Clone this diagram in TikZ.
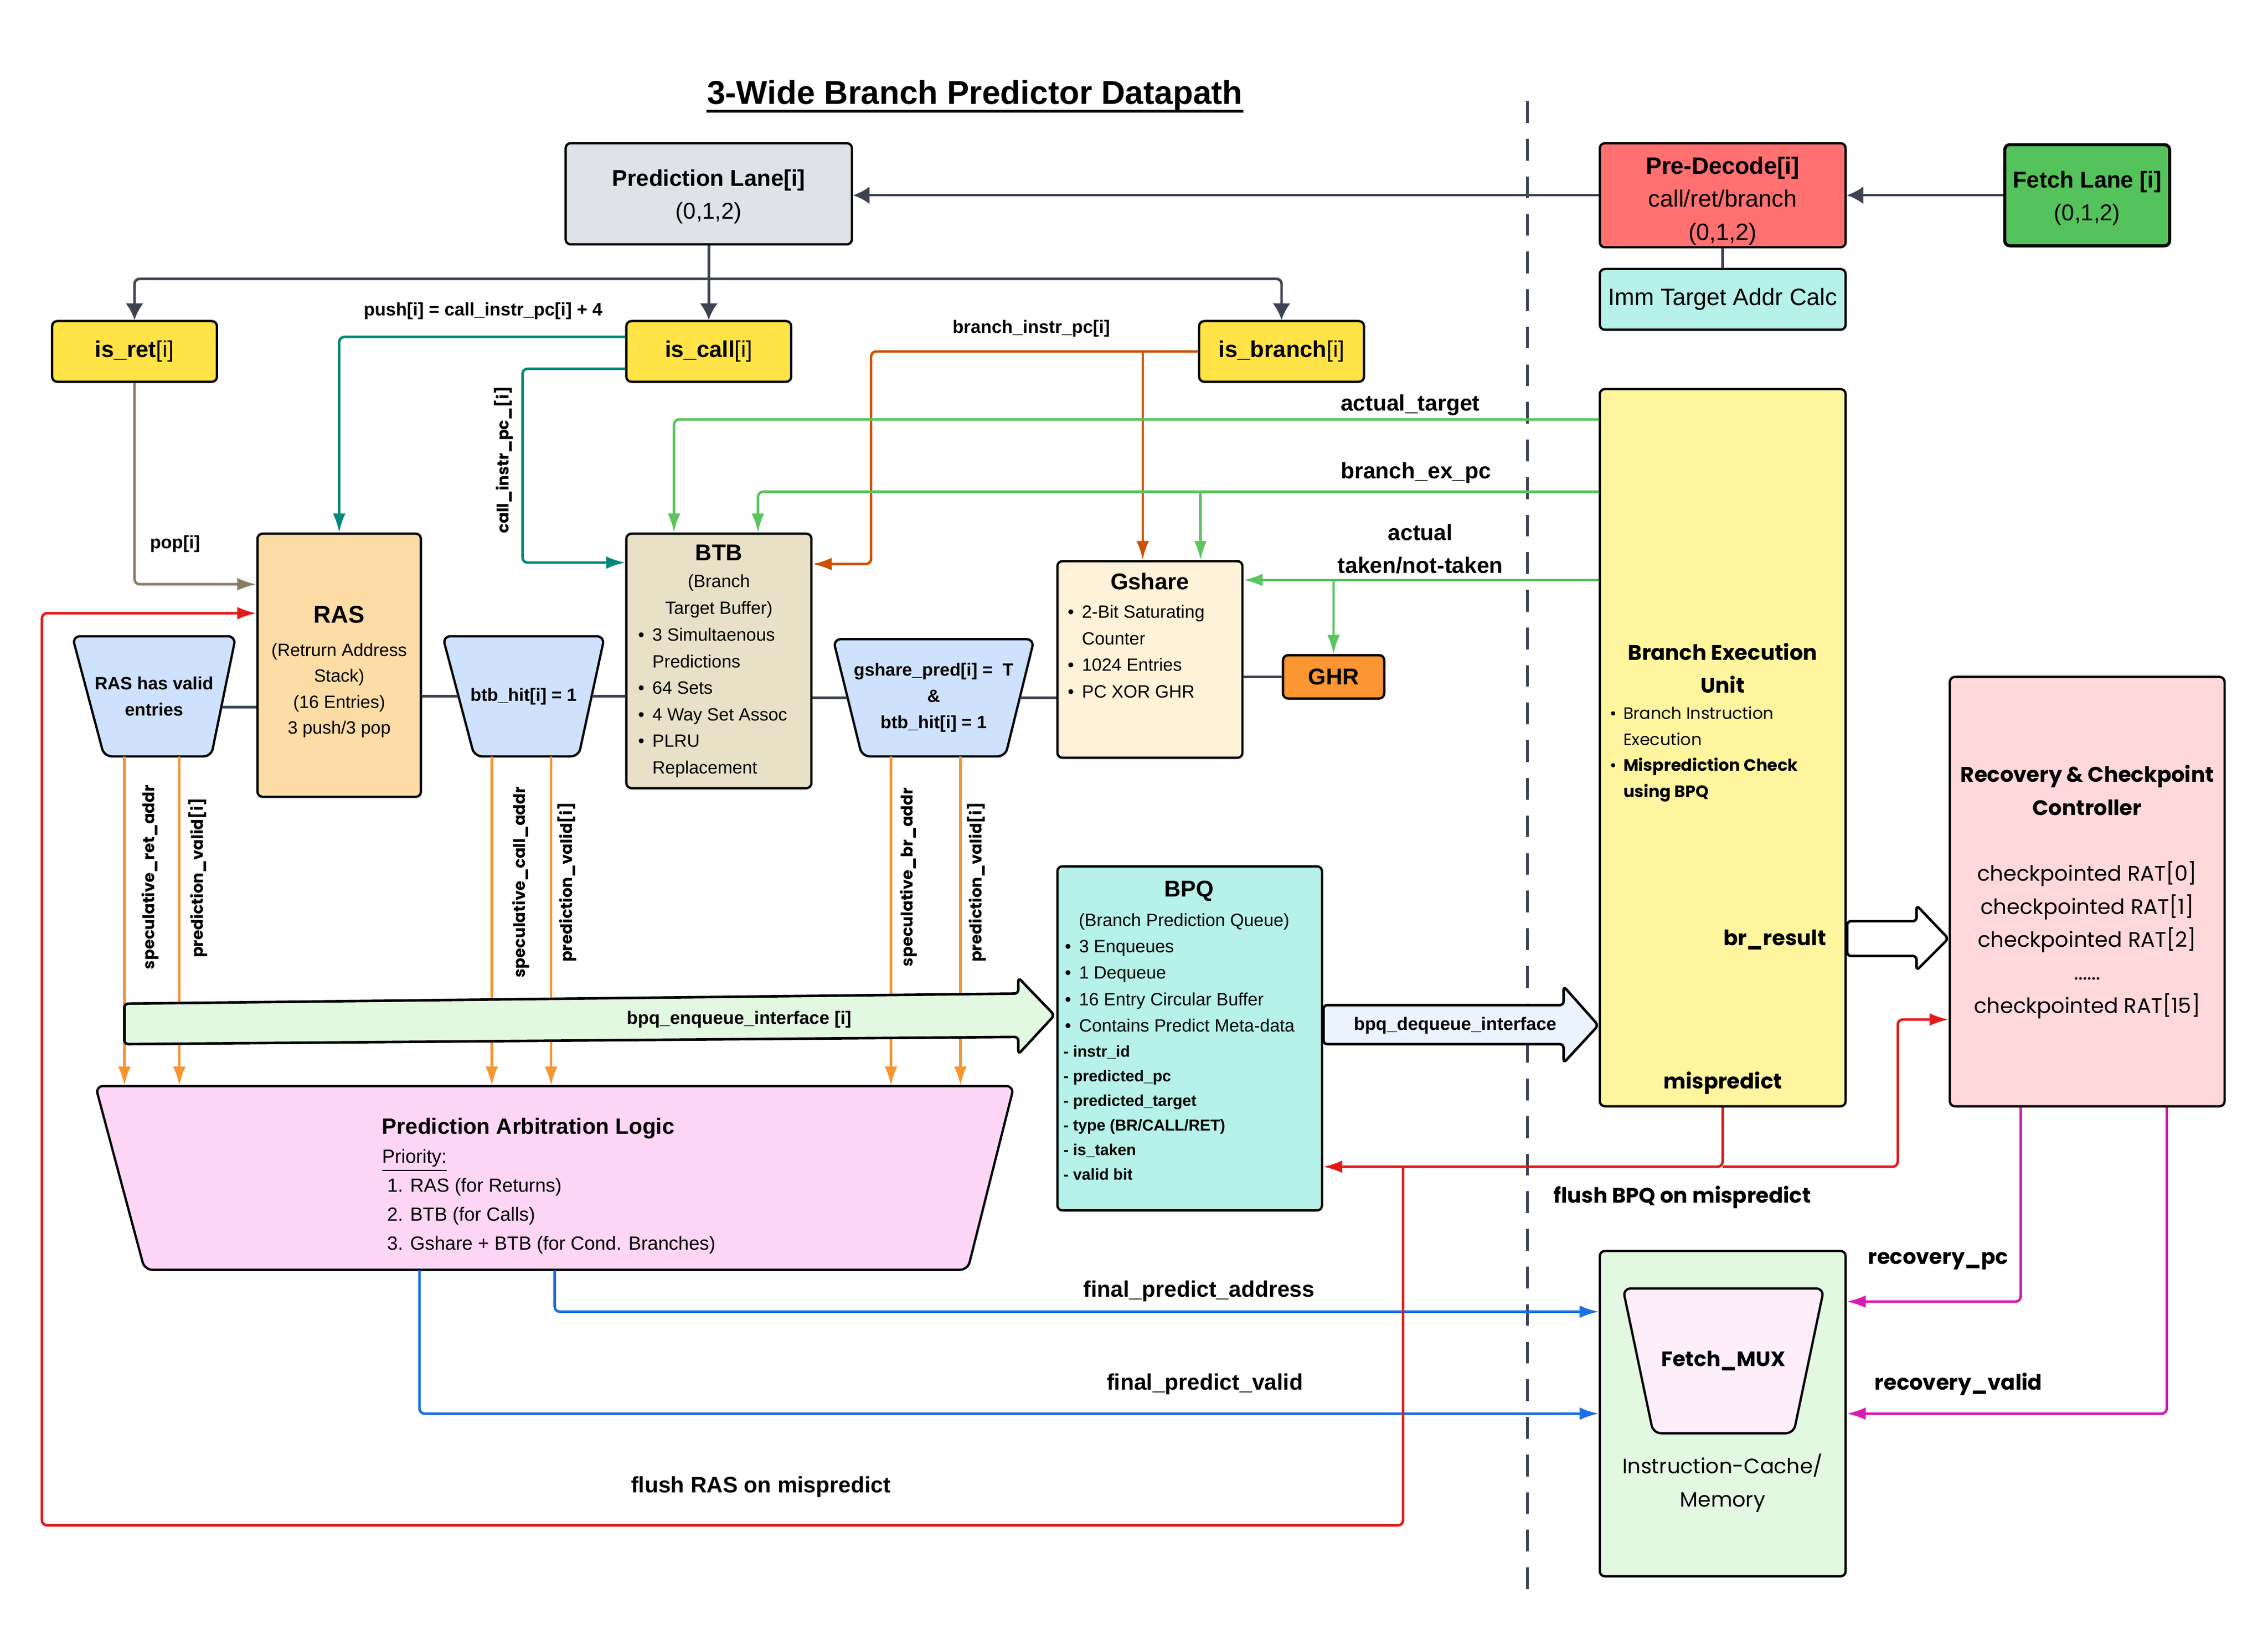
\documentclass[tikz,border=0pt]{standalone}
\usepackage{fontspec}
\setmainfont{Liberation Sans}
\newfontfamily\widefont{Poppins}
\usetikzlibrary{shapes.geometric,arrows.meta,positioning,calc}

\definecolor{darkline}{HTML}{3D4350}
\definecolor{lanegray}{HTML}{DFE2E7}
\definecolor{decodered}{HTML}{FF7070}
\definecolor{fetchgreen}{HTML}{55C35C}
\definecolor{immcyan}{HTML}{B6F2EA}
\definecolor{sigyellow}{HTML}{FFE347}
\definecolor{callteal}{HTML}{00897B}
\definecolor{popbrown}{HTML}{8B7B62}
\definecolor{rasorange}{HTML}{FDDCA6}
\definecolor{btbtan}{HTML}{E8E1C8}
\definecolor{gsharecream}{HTML}{FFF2D8}
\definecolor{ghrorange}{HTML}{FB9632}
\definecolor{brorange}{HTML}{CC5200}
\definecolor{updgreen}{HTML}{5AC45F}
\definecolor{beuyellow}{HTML}{FFF59F}
\definecolor{recpink}{HTML}{FFD8DA}
\definecolor{muxblue}{HTML}{CFE2FD}
\definecolor{specorange}{HTML}{F7952F}
\definecolor{enqgreen}{HTML}{E2F8E1}
\definecolor{deqblue}{HTML}{EBF3FE}
\definecolor{arbpink}{HTML}{FDD6F5}
\definecolor{predblue}{HTML}{1C6FE4}
\definecolor{fmuxpink}{HTML}{FDEEF9}
\definecolor{recmagenta}{HTML}{D81BB0}
\definecolor{flushred}{HTML}{E41A1A}

\newcommand{\setfs}[2]{\fontsize{#1}{#2}\selectfont}
\newcommand{\bul}{\makebox[0.8em][l]{•}}
\newcommand{\ind}{\hspace*{0.8em}}

\begin{document}
\begin{tikzpicture}[x=0.02cm, y=-0.02cm,
    box/.style={rectangle, draw, rounded corners=2pt, line width=0.9pt, inner sep=0pt, align=center},
    sig/.style={box, fill=sigyellow, minimum width=2.28cm, minimum height=0.84cm, font=\setfs{9}{11}},
    muxbody/.style={draw, line width=0.9pt, rounded corners=3pt, fill=muxblue},
    muxtxt/.style={inner sep=0pt, align=center, font=\bfseries\setfs{7}{10.3}},
    wire/.style={line width=1pt, rounded corners=2pt},
    arrow/.style={wire, -{Latex[length=7.5pt, width=5pt]}},
    garrow/.style={wire, darkline, -{Latex[length=6.5pt, width=7pt]}},
    fat/.style={draw, line width=1pt, rounded corners=1.5pt},
    lbl/.style={font=\bfseries\setfs{8.8}{13}, align=center},
    small/.style={font=\bfseries\setfs{7.1}{8}},
    wlbl/.style={font=\widefont\bfseries\setfs{8.3}{13}, align=center},
    vlbl/.style={font=\widefont\bfseries\setfs{6.3}{7}, rotate=90}
]
    \useasboundingbox (0,0) rectangle (1568,1134);

    % Title and lane separator
    \node[font=\bfseries\setfs{13}{15}, inner sep=0pt, anchor=base] (title) at (674,72) {3-Wide Branch Predictor Datapath};
    \draw[line width=1.1pt] ([yshift=-2.8pt]title.base west) -- ([yshift=-2.8pt]title.base east);
    \draw[darkline, line width=0.9pt, dash pattern=on 0.3cm off 0.22cm] (1056,70) -- (1056,1105);

    % Front end
    \node[box, fill=lanegray, minimum width=3.96cm, minimum height=1.4cm,
        label={[font=\setfs{9}{13}, align=center, yshift=-0.04cm]center:{\textbf{Prediction Lane[i]}\\(0,1,2)}}] (lane) at (490,134) {};
    \node[box, fill=decodered, minimum width=3.4cm, minimum height=1.44cm,
        label={[font=\setfs{9.3}{13}, align=center, yshift=-0.08cm]center:{\textbf{Pre-Decode[i]}\\call/ret/branch\\(0,1,2)}}] (predec) at (1191,135) {};
    \node[box, fill=fetchgreen, minimum width=2.28cm, minimum height=1.4cm, line width=1.2pt,
        label={[font=\setfs{9}{13}, align=center, yshift=-0.04cm]center:{\textbf{Fetch Lane [i]}\\(0,1,2)}}] (fetch) at (1443,135) {};
    \node[box, fill=immcyan, minimum width=3.4cm, minimum height=0.84cm, font=\setfs{9.3}{11}] (imm) at (1191,207) {Imm Target Addr Calc};

    \node[sig] (isret) at (93,243) {\textbf{is\_ret}[i]};
    \node[sig] (iscall) at (490,243) {\textbf{is\_call}[i]};
    \node[sig] (isbr) at (886,243) {\textbf{is\_branch}[i]};

    % Predictor structures
    \node[box, fill=rasorange, minimum width=2.26cm, minimum height=3.64cm] (ras) at (234.5,460) {};
    \node[font=\setfs{7}{10.2}, align=center] (rastxt) at (234.5,464.5)
        {{\bfseries\setfs{9.5}{11}RAS}\\[3pt](Retrurn Address\\Stack)\\(16 Entries)\\3 push/3 pop};

    \node[box, fill=btbtan, minimum width=2.56cm, minimum height=3.52cm] (btb) at (497,457) {};
    \node[font=\setfs{7}{10.5}, align=center] (btbhead) at (497,402) {{\bfseries\setfs{9}{10}BTB}\\(Branch\\Target Buffer)};
    \node[font=\setfs{7}{10.45}, align=left, anchor=west] (btblist) at (435,486)
        {\bul 3 Simultaenous\\\ind Predictions\\\bul 64 Sets\\\bul 4 Way Set Assoc\\\bul PLRU\\\ind Replacement};

    \node[box, fill=gsharecream, minimum width=2.56cm, minimum height=2.72cm] (gshare) at (795,456) {};
    \node[font=\bfseries\setfs{9}{10}] (gshead) at (795,402) {Gshare};
    \node[font=\setfs{7}{10.5}, align=left, anchor=west] (gslist) at (732,450.5)
        {\bul 2-Bit Saturating\\\ind Counter\\\bul 1024 Entries\\\bul PC XOR GHR};
    \node[box, fill=ghrorange, minimum width=1.4cm, minimum height=0.6cm, font=\bfseries\setfs{9}{10}] (ghr) at (922,468) {GHR};

    % Hit muxes
    \draw[muxbody] (50,440) -- (163,440) -- (146,523) -- (72,523) -- cycle;
    \node[muxtxt, minimum width=2.26cm, minimum height=1.66cm] (rasmux) at (106.5,481.5) {RAS has valid\\entries};
    \draw[muxbody] (306,440) -- (418,440) -- (400,523) -- (328,523) -- cycle;
    \node[muxtxt, minimum width=2.24cm, minimum height=1.66cm] (btbmux) at (362,481.5) {btb\_hit[i] = 1};
    \draw[muxbody] (576,442) -- (715,442) -- (695,523) -- (596,523) -- cycle;
    \node[muxtxt, minimum width=2.78cm, minimum height=1.62cm] (gsmux) at (645.5,482.5) {gshare\_pred[i] = \ T\\\&\\btb\_hit[i] = 1};

    % Arbitration
    \draw[muxbody, fill=arbpink] (66,751) -- (701,751) -- (669,878) -- (100,878) -- cycle;
    \node[minimum width=12.7cm, minimum height=2.54cm, inner sep=0pt] (arb) at (383.5,814.5) {};
    \node[font=\setfs{7.5}{11.4}, align=left, anchor=west] (arbtxt) at (258,820)
        {{\bfseries\setfs{8.7}{10}Prediction Arbitration Logic}\\\underline{Priority:}\\\hspace*{2pt}1. RAS (for Returns)\\\hspace*{2pt}2. BTB (for Calls)\\\hspace*{2pt}3. Gshare + BTB (for Cond. Branches)};

    % BPQ
    \node[box, fill=immcyan, minimum width=3.66cm, minimum height=4.76cm] (bpq) at (822.5,718) {};
    \node[font=\bfseries\setfs{9}{10}] (bpqhead) at (822,616) {BPQ};
    \node[font=\setfs{7}{10.4}, align=left, anchor=west] (bpqlist) at (730,672.5)
        {\hspace*{5.5pt}(Branch Prediction Queue)\\\bul 3 Enqueues\\\bul 1 Dequeue\\\bul 16 Entry Circular Buffer\\\bul Contains Predict Meta-data};
    \node[font=\bfseries\setfs{6.2}{9.65}, align=left, anchor=west] (bpqmeta) at (729,769.5)
        {- instr\_id\\- predicted\_pc\\- predicted\_target\\- type (BR/CALL/RET)\\- is\_taken\\- valid bit};

    % Back end
    \node[box, fill=beuyellow, minimum width=3.4cm, minimum height=9.92cm] (beu) at (1191,517) {};
    \node[wlbl] (beuhead) at (1191,462) {Branch Execution\\Unit};
    \node[font=\widefont\setfs{6.5}{10.2}, align=left, anchor=west] (beulist) at (1107,521.5)
        {\bul Branch Instruction\\\ind Execution\\\bul\textbf{Misprediction Check}\\\ind\textbf{using BPQ}};
    \node[wlbl] (brres) at (1227,650) {br\_result};
    \node[wlbl] (mispred) at (1191,749) {mispredict};

    \node[box, fill=recpink, minimum width=3.8cm, minimum height=5.94cm] (rec) at (1443,616.5) {};
    \node[wlbl] (rechead) at (1443,546.5) {Recovery \& Checkpoint\\Controller};
    \node[font=\widefont\setfs{8.3}{13}, align=center] (reclist) at (1443,650)
        {checkpointed RAT[0]\\checkpointed RAT[1]\\checkpointed RAT[2]\\......\\checkpointed RAT[15]};

    \node[box, fill=enqgreen, minimum width=3.4cm, minimum height=4.5cm] (fbox) at (1191,977.5) {};
    \draw[muxbody, fill=fmuxpink] (1122,891) -- (1261,891) -- (1240,991) -- (1143,991) -- cycle;
    \node[muxtxt, minimum width=2.78cm, minimum height=2cm, font=\widefont\bfseries\setfs{8.2}{10}] (fmux) at (1191.5,941) {Fetch\_MUX};
    \node[font=\widefont\setfs{8.2}{13}, align=center] (icache) at (1191,1025.5) {Instruction-Cache/\\Memory};

    % Decode path
    \draw[garrow] (fetch.west) -- (predec.east);
    \draw[garrow] (predec.west) -- (predec.west -| lane.east);
    \draw[wire, darkline] (predec.south) -- (imm.north);
    \coordinate (fan) at ($(lane.south)+(0,23)$);
    \draw[garrow] (lane.south) -- (iscall.north);
    \draw[garrow] (fan) -| (isret.north);
    \draw[garrow] (fan) -| (isbr.north);

    % Call / return paths
    \draw[arrow, callteal] ([yshift=0.2cm]iscall.west) -| (ras.north);
    \draw[arrow, callteal] ([yshift=-0.24cm]iscall.west) -- ++(-71,0) |- ([yshift=1.36cm]btb.west);
    \draw[arrow, popbrown] (isret.south) |- ([yshift=1.12cm]ras.west);
    \node[small] (pushlbl) at (334,215) {push[i] = call\_instr\_pc[i] + 4};
    \node[small] (poplbl) at (121,376) {pop[i]};
    \node[vlbl] (calllbl) at (348,318) {call\_instr\_pc\_[i]};

    % Branch PC
    \draw[arrow, brorange] (isbr.west) -- ++(-226,0) |- ([yshift=1.34cm]btb.east);
    \coordinate (gspc) at ([xshift=-0.1cm]gshare.north);
    \draw[arrow, brorange] (gspc |- isbr.west) -- (gspc);
    \node[small] (brpclbl) at (713,227) {branch\_instr\_pc[i]};

    % Update paths from execution
    \coordinate (acttgt) at ([yshift=4.54cm]beu.west);
    \coordinate (expc) at ([yshift=3.54cm]beu.west);
    \coordinate (tnt) at ([yshift=2.32cm]beu.west);
    \coordinate (gsup) at ([xshift=0.7cm]gshare.north);
    \draw[arrow, updgreen] (acttgt) -| ([xshift=-0.62cm]btb.north);
    \draw[arrow, updgreen] (expc) -| ([xshift=0.54cm]btb.north);
    \draw[arrow, updgreen] (gsup |- expc) -- (gsup);
    \draw[arrow, updgreen] (tnt) -- (tnt -| gshare.east);
    \draw[arrow, updgreen] (ghr.north |- tnt) -- (ghr.north);
    \node[lbl] (tgtlbl) at (975,280) {actual\_target};
    \node[lbl] (expclbl) at (979,327) {branch\_ex\_pc};
    \node[lbl] (tntlbl) at (982,379.5) {actual\\taken/not-taken};

    % Hit logic links
    \coordinate (rasout) at ([xshift=-0.2cm, yshift=-0.15cm]rasmux.east);
    \draw[wire, darkline] (gshare.east |- ghr.west) -- (ghr.west);
    \draw[wire, darkline] (rasout) -- (rasout -| ras.west);
    \draw[wire, darkline] (btbmux.west -| ras.east) -- ([xshift=0.22cm]btbmux.west);
    \draw[wire, darkline] ([xshift=-0.18cm]btbmux.east) -- (btbmux.east -| btb.west);
    \draw[wire, darkline] (gsmux.west -| btb.east) -- ([xshift=0.2cm]gsmux.west);
    \draw[wire, darkline] ([xshift=-0.2cm]gsmux.east) -- (gsmux.east -| gshare.west);

    % Speculative outputs
    \foreach \m/\dx in {rasmux/-20.5, rasmux/17.5, btbmux/-22, btbmux/19, gsmux/-29.5, gsmux/18.5} {
        \coordinate (s) at ($(\m.south)+(\dx,0)$);
        \draw[arrow, specorange] (s) -- (s |- arb.north);
    }
    \node[vlbl] (sra) at (104,606.5) {speculative\_ret\_addr};
    \node[vlbl] (pv1) at (137,607) {prediction\_valid[i]};
    \node[vlbl] (sca) at (360,610) {speculative\_call\_addr};
    \node[vlbl] (pv2) at (392,610) {prediction\_valid[i]};
    \node[vlbl] (sba) at (628,606.5) {speculative\_br\_addr};
    \node[vlbl] (pv3) at (675,610) {prediction\_valid[i]};

    % Interfaces
    \draw[fat, fill=enqgreen] (86,694) -- (704,687) -- (704,676) -- (729,702) -- (704,729) -- (704,717) -- (86,722) -- cycle;
    \node[small] (enqlbl) at (511,705) {bpq\_enqueue\_interface [i]};
    \draw[fat, fill=deqblue] (915,695) -- (1081,695) -- (1081,682) -- (1105,709) -- (1081,735) -- (1081,722) -- (915,722) -- cycle;
    \node[small] (deqlbl) at (1006,709) {bpq\_dequeue\_interface};
    \draw[fat, fill=white] (1277,637) -- (1325,637) -- (1325,626) -- (1347,649) -- (1325,671) -- (1325,661) -- (1277,661) -- cycle;

    % Final prediction
    \draw[arrow, predblue] (arb.south) |- ([yshift=1.41cm]fbox.west);
    \draw[arrow, predblue] ([xshift=-1.87cm]arb.south) |- (fbox.west);
    \node[lbl] (fpalbl) at (829,893) {final\_predict\_address};
    \node[lbl] (fpvlbl) at (833,957) {final\_predict\_valid};

    % Recovery
    \draw[arrow, recmagenta] ([xshift=-0.92cm]rec.south) |- ([yshift=1.55cm]fbox.east);
    \draw[arrow, recmagenta] ([xshift=1.1cm]rec.south) |- (fbox.east);
    \node[wlbl] (rpclbl) at (1340,872) {recovery\_pc};
    \node[wlbl] (rvlbl) at (1354,957) {recovery\_valid};

    % Flush on mispredict
    \coordinate (mpk) at ($(beu.south)+(0,41)$);
    \draw[arrow, flushred] (beu.south) -- (mpk) -- (mpk -| bpq.east);
    \draw[arrow, flushred] (mpk) -- ++(121,0) |- ([yshift=-1.77cm]rec.west);
    \draw[arrow, flushred] (mpk -| 970,0) -- ++(0,248) -- ++(-941,0) |- ([yshift=0.72cm]ras.west);
    \node[wlbl] (fbpqlbl) at (1163,828) {flush BPQ on mispredict};
    \node[lbl] (fraslbl) at (526,1028) {flush RAS on mispredict};
\end{tikzpicture}
\end{document}
